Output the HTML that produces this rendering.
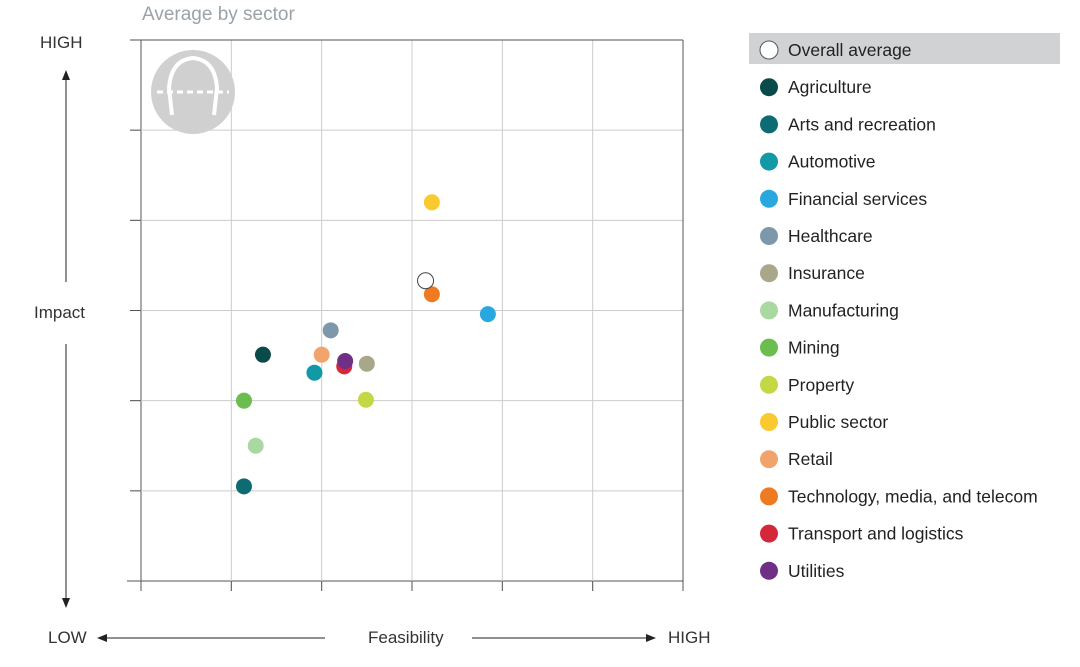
<!DOCTYPE html>
<html><head><meta charset="utf-8"><style>
body{margin:0;background:#fff;font-family:"Liberation Sans",sans-serif}
svg{display:block}
</style></head><body>
<svg id="chart" width="1080" height="667" xmlns="http://www.w3.org/2000/svg" font-family="Liberation Sans, sans-serif">
<text x="142" y="20" font-size="19" fill="#9aa3a8">Average by sector</text>
<g id="grid"></g>
<g>
<circle cx="193" cy="92" r="42" fill="#d0d0d0"/>
<path d="M172,115 L169,88 Q171,60 193,58 Q215,60 217,88 L214,115" fill="none" stroke="#fff" stroke-width="4"/>
<line x1="157" y1="92" x2="229" y2="92" stroke="#fff" stroke-width="3" stroke-dasharray="6,4"/>
</g>
<text x="40" y="48" font-size="17" fill="#333">HIGH</text>
<text x="34" y="318" font-size="17" fill="#333">Impact</text>
<line x1="66" y1="78" x2="66" y2="282" stroke="#222"/>
<polygon points="66,70 62,80 70,80" fill="#222"/>
<line x1="66" y1="344" x2="66" y2="600" stroke="#222"/>
<polygon points="66,608 62,598 70,598" fill="#222"/>
<text x="48" y="643" font-size="17" fill="#333">LOW</text>
<line x1="105" y1="638" x2="325" y2="638" stroke="#222"/>
<polygon points="97,638 107,634 107,642" fill="#222"/>
<text x="368" y="643" font-size="17" fill="#333">Feasibility</text>
<line x1="472" y1="638" x2="648" y2="638" stroke="#222"/>
<polygon points="656,638 646,634 646,642" fill="#222"/>
<text x="668" y="643" font-size="17" fill="#333">HIGH</text>
<g id="points"></g>
<g id="legend"></g>
</svg>
<script>
const sectors=["Overall average","Agriculture","Arts and recreation","Automotive","Financial services","Healthcare","Insurance","Manufacturing","Mining","Property","Public sector","Retail","Technology, media, and telecom","Transport and logistics","Utilities"];
const feasibility=[3.15,1.35,1.14,1.92,3.84,2.10,2.50,1.27,1.14,2.49,3.22,2.00,3.22,2.25,2.26];
const impact=[3.33,2.51,1.05,2.31,2.96,2.78,2.41,1.50,2.00,2.01,4.20,2.51,3.18,2.38,2.44];
const colors=["none","#0b4a4a","#0e6b73","#1199a6","#29a8e0","#7d98aa","#a9a78a","#a9d8a0","#6abd4e","#c4d845","#f9c92f","#f0a46c","#ee7a22","#d4283a","#6e2f85"];
const NS="http://www.w3.org/2000/svg";
const X0=141,X1=683,Y0=581,Y1=40,MAX=6;
const xs=v=>X0+(X1-X0)*v/MAX, ys=v=>Y0-(Y0-Y1)*v/MAX;
function mk(t,a,p){const e=document.createElementNS(NS,t);for(const k in a)e.setAttribute(k,a[k]);p.appendChild(e);return e;}
const grid=document.getElementById('grid');
for(let i=0;i<=MAX;i++){
  const gx=mk('line',{x1:xs(i),x2:xs(i),y1:Y1,y2:i===0?591:Y0+10,stroke:i===0||i===MAX?'#555':'#ccc'},grid);
  
  
  const gy=mk('line',{x1:i===0?127:130,x2:X1,y1:ys(i),y2:ys(i),stroke:i===0||i===MAX?'#555':'#ccc'},grid);
  
  
  if(i>0&&i<MAX){const t=mk('line',{x1:130,x2:X0,y1:ys(i),y2:ys(i),stroke:'#555'},grid);
  
  
  const t2=mk('line',{x1:xs(i),x2:xs(i),y1:Y0,y2:591,stroke:'#555'},grid);
  
  }
}
const pts=document.getElementById('points');
const order=[1,2,3,4,5,6,7,8,9,10,11,12,13,14,0];
order.forEach(i=>{
  const c=mk('circle',{cx:xs(feasibility[i]),cy:ys(impact[i]),r:8,fill:colors[i]==='none'?'#fff':colors[i],stroke:colors[i]==='none'?'#444':'none'},pts);
  
  
});
const lg=document.getElementById('legend');
const bg=mk('rect',{x:749,y:33,width:311,height:31,fill:'#d1d2d4'},lg);


sectors.forEach((s,i)=>{
  const y=50+i*37.2;
  const g=mk('g',{},lg);
  
  
  mk('circle',{cx:769,cy:y,r:9,fill:colors[i]==='none'?'#fff':colors[i],stroke:colors[i]==='none'?'#555':'none'},g);
  const t=mk('text',{x:788,y:y+6,'font-size':17.5,fill:'#222'},g);
  t.textContent=s;
});
</script>
</body></html>
